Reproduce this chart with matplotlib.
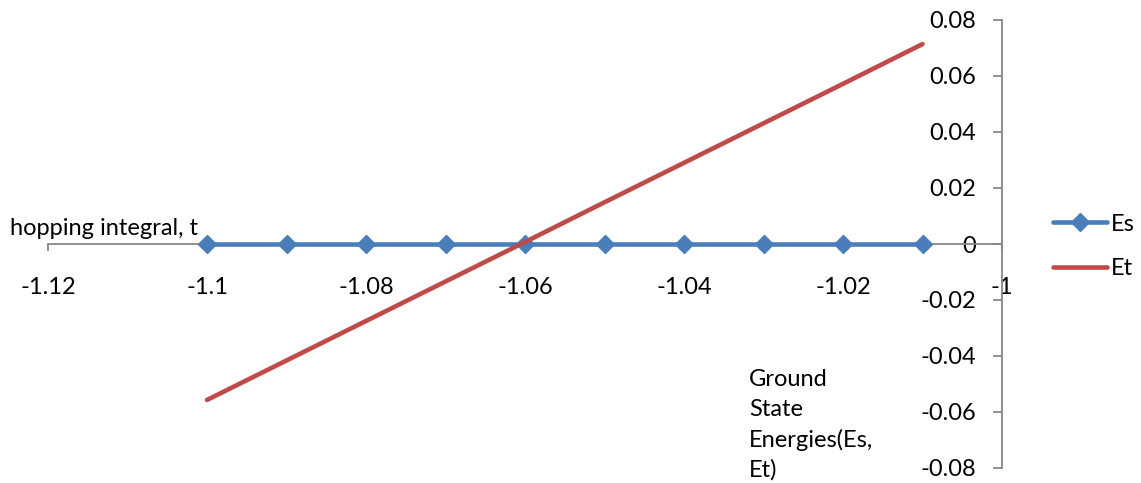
import matplotlib
matplotlib.use("Agg")
import matplotlib.pyplot as plt

# hopping integral t and the two ground state energies
t = [-1.10, -1.09, -1.08, -1.07, -1.06, -1.05, -1.04, -1.03, -1.02, -1.01]
es = [0.0, 0.0, 0.0, 0.0, 0.0, 0.0, 0.0, 0.0, 0.0, 0.0]
et = [-0.0557, -0.0416, -0.0275, -0.0134, 0.0007, 0.0149, 0.0290, 0.0431, 0.0572, 0.0714]

x_ticks = [-1.12, -1.10, -1.08, -1.06, -1.04, -1.02, -1.00]
x_labels = ["-1.12", "-1.1", "-1.08", "-1.06", "-1.04", "-1.02", "-1"]
y_ticks = [-0.08, -0.06, -0.04, -0.02, 0.0, 0.02, 0.04, 0.06, 0.08]
y_labels = ["-0.08", "-0.06", "-0.04", "-0.02", "0", "0.02", "0.04", "0.06", "0.08"]

BLUE = "#4A7EBB"
RED = "#BE4B48"
GRID = "#868686"
FS = 17

plt.rcParams["font.family"] = ["Lato", "DejaVu Sans"]

W, H = 1141, 483
fig = plt.figure(figsize=(W / 100, H / 100), dpi=100)
ax = fig.add_axes([48 / W, 1 - 468 / H, (1002 - 48) / W, (468 - 20) / H])

ax.plot(t, es, color=BLUE, lw=3.3, marker="D", ms=9.5, mfc=BLUE, mec=BLUE,
        label="Es", solid_capstyle="round", zorder=3)
ax.plot(t, et, color=RED, lw=3.3, label="Et", solid_capstyle="round", zorder=4)

ax.set_xlim(-1.12, -1.0)
ax.set_ylim(-0.08, 0.08)

# axes cross at the origin of energy and at t = -1
for side in ("top", "right"):
    ax.spines[side].set_visible(False)
ax.spines["left"].set_position(("data", -1.0))
ax.spines["bottom"].set_position(("data", 0.0))
for side in ("left", "bottom"):
    ax.spines[side].set_color(GRID)
    ax.spines[side].set_linewidth(1.3)

ax.set_xticks(x_ticks)
ax.set_xticklabels(x_labels)
ax.set_yticks(y_ticks)
ax.set_yticklabels(y_labels)
ax.tick_params(axis="x", direction="out", length=5, width=1.3, color=GRID,
               labelsize=FS, pad=19)
ax.tick_params(axis="y", direction="out", length=6.5, width=1.3, color=GRID,
               labelsize=FS, pad=12)

fig.text(10 / W, 1 - 235 / H, "hopping integral, t", fontsize=FS,
         ha="left", va="baseline")
fig.text(749 / W, 1 - 369 / H, "Ground\nState\nEnergies(Es,\nEt)", fontsize=FS,
         ha="left", va="top", linespacing=1.5)

fig.legend(loc="center left", bbox_to_anchor=(1053 / W, 1 - 246.5 / H),
           frameon=False, fontsize=FS, borderpad=0, borderaxespad=0,
           handlelength=2.3, handletextpad=0.15, labelspacing=1.0)

fig.savefig("out.png", dpi=100)
